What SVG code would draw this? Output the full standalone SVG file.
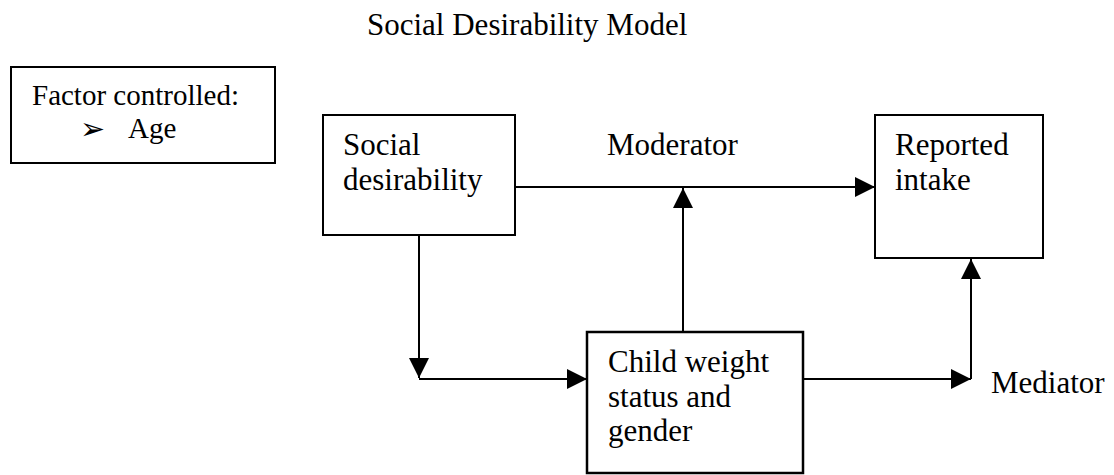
<svg xmlns="http://www.w3.org/2000/svg" width="1114" height="475" viewBox="0 0 1114 475">
<style>
.t{font-family:"Liberation Serif","Times New Roman",serif;font-size:31px;fill:#000}
.b{fill:#fff;stroke:#000;stroke-width:2}
.c{fill:none;stroke:#000;stroke-width:2}
</style>
<defs>
<marker id="ah" viewBox="0 0 20 20" refX="20" refY="10" markerWidth="20" markerHeight="20" markerUnits="userSpaceOnUse" orient="auto">
<path d="M0,0 L20,10 L0,20 Z" fill="#000"/>
</marker>
</defs>
<rect width="1114" height="475" fill="#fff"/>
<text class="t" x="367" y="35">Social Desirability Model</text>
<g id="factor">
<rect class="b" x="11" y="67" width="264" height="96"/>
<text class="t" x="32" y="105" style="font-size:29px">Factor controlled:</text>
<text x="80" y="139" style="font-family:'DejaVu Sans',sans-serif;font-size:30px">➢</text>
<text class="t" x="128" y="138" style="font-size:29px">Age</text>
</g>
<g id="social">
<rect class="b" x="323" y="115" width="192" height="120"/>
<text class="t" x="343" y="155">Social</text>
<text class="t" x="343" y="190">desirability</text>
</g>
<g id="reported">
<rect class="b" x="875" y="115" width="168" height="143"/>
<text class="t" x="895" y="155">Reported</text>
<text class="t" x="895" y="190">intake</text>
</g>
<g id="child">
<rect class="b" x="587" y="332" width="216" height="141" style="stroke-width:2.5"/>
<text class="t" x="608" y="372">Child weight</text>
<text class="t" x="608" y="407">status and</text>
<text class="t" x="608" y="441">gender</text>
</g>
<g id="labels">
<text class="t" x="607" y="155">Moderator</text>
<text class="t" x="991" y="393">Mediator</text>
</g>
<g id="connectors">
<line class="c" x1="515" y1="187" x2="875" y2="187" marker-end="url(#ah)"/>
<line class="c" x1="683" y1="332" x2="683" y2="188" marker-end="url(#ah)"/>
<line class="c" x1="419" y1="235" x2="419" y2="378" marker-end="url(#ah)"/>
<line class="c" x1="419" y1="379" x2="587" y2="379" marker-end="url(#ah)"/>
<line class="c" x1="803" y1="379" x2="971" y2="379" marker-end="url(#ah)"/>
<line class="c" x1="971" y1="379" x2="971" y2="259" marker-end="url(#ah)"/>
</g>
</svg>
